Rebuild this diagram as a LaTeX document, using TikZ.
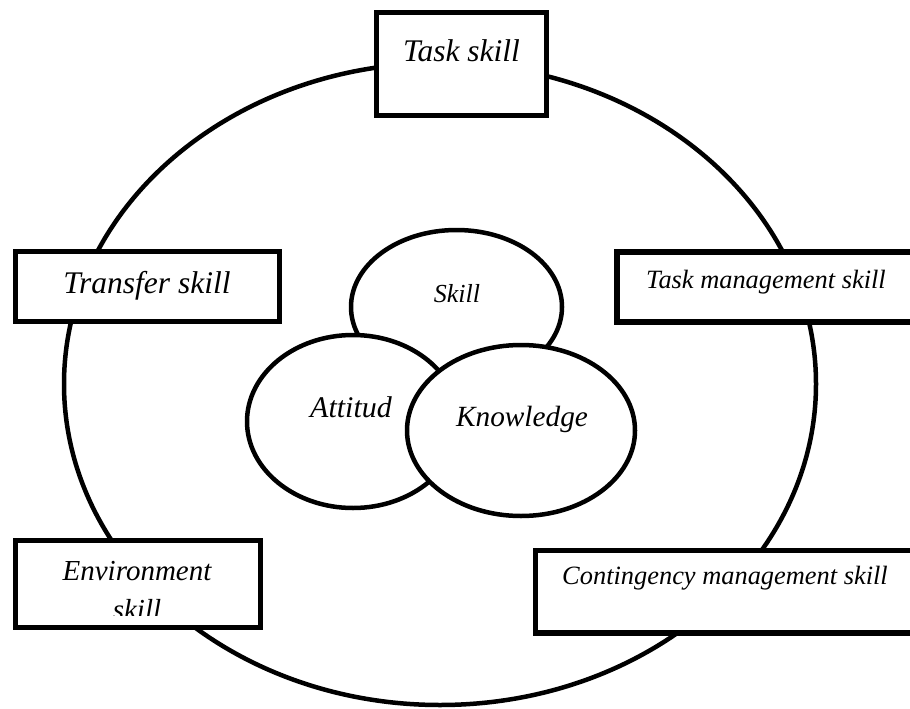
\documentclass[tikz,border=0pt]{standalone}
\usepackage{fontspec}
\setmainfont{Liberation Serif}
\usetikzlibrary{shapes.geometric}

\tikzset{
  outer/.style={draw=black, line width=4.5pt, ellipse, inner sep=0pt},
  part/.style={draw=black, fill=white, line width=4.5pt, ellipse, inner sep=0pt},
  skillbox/.style={draw=black, fill=white, line width=5.5pt, rectangle, inner sep=0pt},
  lbl/.style={anchor=base, inner sep=0pt, font=\itshape},
}
\newcommand{\fs}[1]{\fontsize{#1}{#1}\selectfont}

\begin{document}
\begin{tikzpicture}[x=1pt, y=-1pt]
  \useasboundingbox (0,0) rectangle (910,709);
  \clip (0,0) rectangle (910,709);

  % surrounding ring
  \node[outer, minimum width=752pt, minimum height=642pt] (ring) at (440,384) {};

  % skill boxes on the ring
  \node[skillbox, minimum width=170pt, minimum height=103pt] (task) at (461.5,64) {};
  \node[skillbox, minimum width=264pt, minimum height=70pt] (transfer) at (147.5,286.5) {};
  \node[skillbox, minimum width=313pt, minimum height=70pt] (taskman) at (773.5,287) {};
  \node[skillbox, minimum width=245pt, minimum height=87pt] (env) at (138,584) {};
  \node[skillbox, minimum width=395pt, minimum height=82.5pt] (cont) at (733,591.75) {};

  % core: skill, attitude, knowledge
  \node[part, minimum width=211pt, minimum height=154pt] (skill) at (456.5,307) {};
  \node[part, minimum width=212pt, minimum height=173pt] (att) at (353,421.5) {};
  \node[part, minimum width=228pt, minimum height=171pt] (know) at (521,430.5) {};

  % labels
  \node[lbl, font=\itshape\fs{31.5}] (tTask) at (461.5,62) {Task skill};
  \node[lbl, font=\itshape\fs{31.5}] (tTransfer) at (147,293) {Transfer skill};
  \node[lbl, font=\itshape\fs{26.4}] (tTaskman) at (766,288) {Task management skill};
  \node[lbl, font=\itshape\fs{29}] (tEnv) at (137,580) {Environment};
  \begin{scope}
    \clip (15,590) rectangle (260,615);
    \node[lbl, font=\itshape\fs{29}] (tEnvB) at (137,619) {skill};
  \end{scope}
  \node[lbl, font=\itshape\fs{26.4}] (tCont) at (725,584) {Contingency management skill};
  \node[lbl, font=\itshape\fs{26}] (tSkill) at (457,302) {Skill};
  \node[lbl, font=\itshape\fs{30}] (tAtt) at (351,417) {Attitud};
  \node[lbl, font=\itshape\fs{29.3}] (tKnow) at (522,426) {Knowledge};
\end{tikzpicture}
\end{document}
